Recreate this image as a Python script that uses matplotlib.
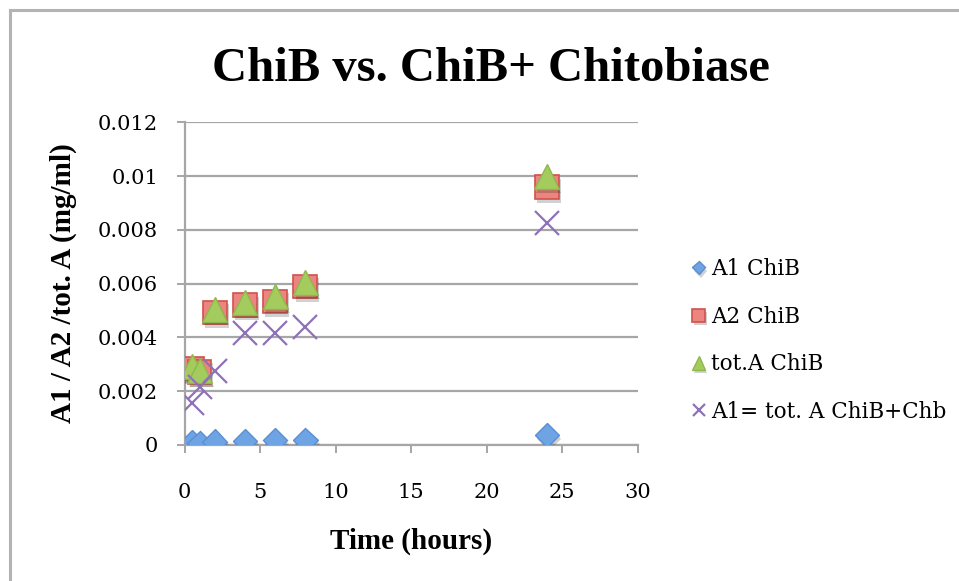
import matplotlib
matplotlib.use("Agg")
import matplotlib.pyplot as plt
import matplotlib.patheffects as pe
from matplotlib.lines import Line2D
from matplotlib.ticker import MultipleLocator, FuncFormatter

# Sampling times (hours)
time_h = [0.5, 1, 2, 4, 6, 8, 24]

# Concentrations (mg/ml)
a1_chib = [0.00010, 0.00008, 0.00012, 0.00015, 0.00017, 0.00018, 0.00037]
a2_chib = [0.00285, 0.00272, 0.00492, 0.00520, 0.00533, 0.00589, 0.00958]
tota_chib = [0.00291, 0.00276, 0.00504, 0.00530, 0.00551, 0.00603, 0.00997]
a1_chib_chb = [0.00155, 0.00214, 0.00276, 0.00415, 0.00415, 0.00440, 0.00826]

series_labels = ["A1 ChiB", "A2 ChiB", "tot.A ChiB", "A1= tot. A ChiB+Chb"]

title = "ChiB vs. ChiB+ Chitobiase"
x_title = "Time (hours)"
y_title = "A1 / A2 /tot. A (mg/ml)"

W, H = 959, 581
fig = plt.figure(figsize=(W / 100, H / 100), dpi=100)
fig.patch.set_facecolor("white")

left, right, bottom, top = 184.5, 637.5, 445.0, 122.2
ax = fig.add_axes([left / W, 1 - bottom / H, (right - left) / W, (bottom - top) / H])
ax.set_xlim(0, 30)
ax.set_ylim(0, 0.012)

grid_c = "#a6a6a6"
ax.xaxis.set_major_locator(MultipleLocator(5))
ax.yaxis.set_major_locator(MultipleLocator(0.002))
ax.yaxis.set_major_formatter(FuncFormatter(lambda v, p: "%g" % v))
ax.grid(axis="y", color=grid_c, linewidth=1.6)
ax.set_axisbelow(True)
for s in ("top", "right"):
    ax.spines[s].set_visible(False)
for s in ("left", "bottom"):
    ax.spines[s].set_color(grid_c)
    ax.spines[s].set_linewidth(1.6)

ax.tick_params(axis="both", direction="out", length=6, width=1.4, color=grid_c,
               labelcolor="black")
ax.tick_params(axis="y", pad=13)
ax.tick_params(axis="x", pad=21)
for lbl in ax.get_xticklabels() + ax.get_yticklabels():
    lbl.set_fontfamily("DejaVu Serif")
    lbl.set_fontsize(15)

shadow = [pe.SimplePatchShadow(offset=(1.5, -2.5), shadow_rgbFace="#000000", alpha=0.18),
          pe.Normal()]

ax.plot(time_h, a1_chib, linestyle="none", marker="D", markersize=12.5,
        markerfacecolor="#6ea4e4", markeredgecolor="#5b8fd2", markeredgewidth=1.0,
        label=series_labels[0], path_effects=shadow, zorder=3)
ax.plot(time_h, a2_chib, linestyle="none", marker="s", markersize=17,
        markerfacecolor="#ec8580", markeredgecolor="#d0524d", markeredgewidth=1.2,
        label=series_labels[1], path_effects=shadow, zorder=4)
ax.plot(time_h, tota_chib, linestyle="none", marker="^", markersize=18,
        markerfacecolor="#a4cb5e", markeredgecolor="#8fb84c", markeredgewidth=1.0,
        label=series_labels[2], path_effects=shadow, zorder=5)
ax.plot(time_h, a1_chib_chb, linestyle="none", marker="x", markersize=17,
        markeredgecolor="#8e72b8", markeredgewidth=1.6,
        label=series_labels[3], zorder=6)

ax.set_xlabel(x_title, fontfamily="Liberation Serif", fontweight="bold", fontsize=21)
ax.xaxis.set_label_coords(0.5, (bottom - 541) / (bottom - top))
ax.xaxis.label.set_va("center")
ax.set_ylabel(y_title, fontfamily="Liberation Serif", fontweight="bold", fontsize=21)
ax.yaxis.set_label_coords((63 - left) / (right - left), 0.5)
ax.yaxis.label.set_va("center")

fig.text(491 / W, 1 - 81 / H, title, ha="center", va="baseline",
         fontfamily="Liberation Serif", fontweight="bold", fontsize=35)

leg = ax.legend(loc="upper left", bbox_to_anchor=(691 / W, 1 - 258 / H),
                bbox_transform=fig.transFigure, frameon=False, markerscale=0.55,
                handlelength=0.7, handletextpad=0.25, labelspacing=1.19,
                borderpad=0, borderaxespad=0,
                prop=dict(family="DejaVu Serif", size=15.5))

# chart frame
frame_c = "#b3b3b3"
fig.add_artist(Line2D([10 / W, 10 / W], [0, 1 - 10 / H], transform=fig.transFigure,
                      color=frame_c, linewidth=2.2))
fig.add_artist(Line2D([10 / W, 1], [1 - 10 / H, 1 - 10 / H], transform=fig.transFigure,
                      color=frame_c, linewidth=2.2))

fig.savefig("out.png", dpi=100)
